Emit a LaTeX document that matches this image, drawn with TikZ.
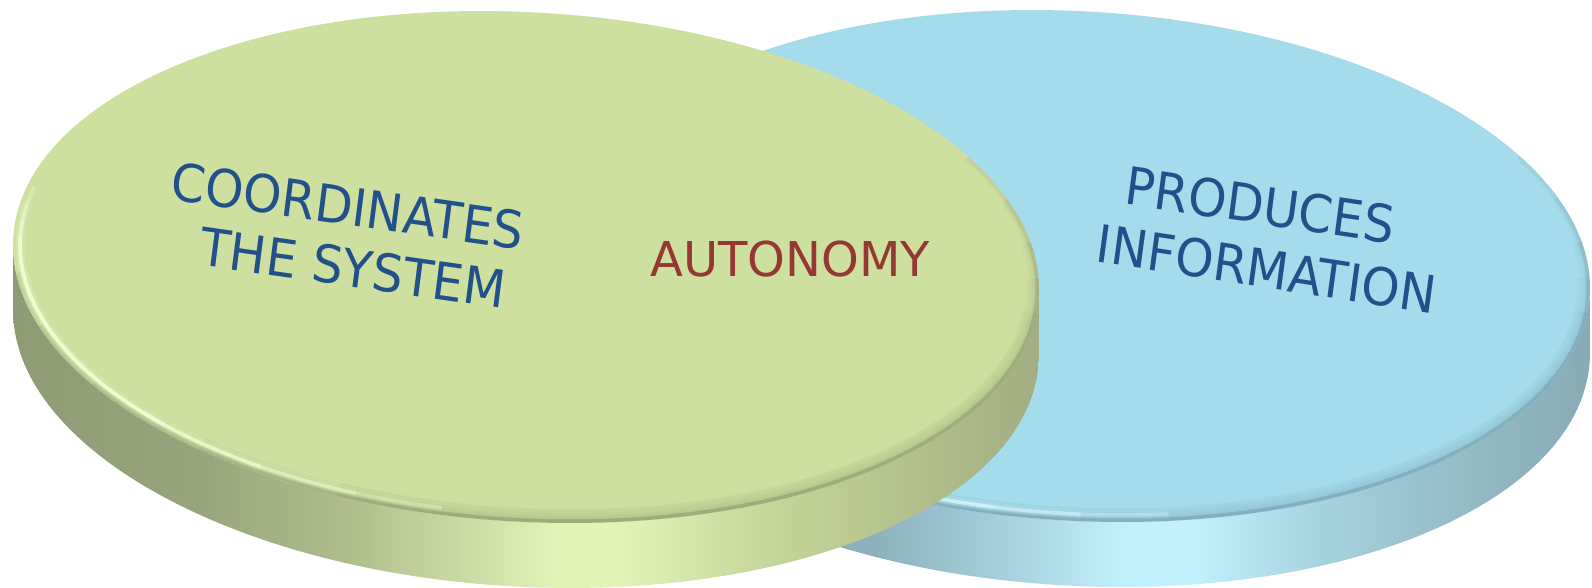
\documentclass[tikz,border=0pt]{standalone}
\usepackage{fontspec}
\setmainfont{DejaVu Sans}
% green side colours
\definecolor{gs0}{HTML}{8F9B74}
\definecolor{gs1}{HTML}{98A47C}
\definecolor{gs2}{HTML}{B0BE8C}
\definecolor{gs3}{HTML}{E2F3B8}
\definecolor{gs4}{HTML}{C4D497}
\definecolor{gs5}{HTML}{A2AD81}
% blue side colours
\definecolor{bs0}{HTML}{7FA2AE}
\definecolor{bs1}{HTML}{8CB1BD}
\definecolor{bs2}{HTML}{A6D1DD}
\definecolor{bs3}{HTML}{C2F1FD}
\definecolor{bs4}{HTML}{A4D0DC}
\definecolor{bs5}{HTML}{93B9C5}
\definecolor{bs6}{HTML}{88AAB5}
% faces, rims, text
\definecolor{gtop}{HTML}{CDE0A0}
\definecolor{btop}{HTML}{A5DCEB}
\definecolor{grim}{HTML}{76815E}
\definecolor{ghl}{HTML}{F4FFD8}
\definecolor{brim}{HTML}{6A8C98}
\definecolor{bhl}{HTML}{DDFAFF}
\definecolor{txtblue}{HTML}{22508A}
\definecolor{txtred}{HTML}{953735}
\pgfdeclarehorizontalshading{greenside}{100bp}{color(0bp)=(gs0); color(25bp)=(gs0); color(34bp)=(gs1); color(41.5bp)=(gs2); color(51.5bp)=(gs3); color(54.5bp)=(gs3); color(62.5bp)=(gs4); color(75bp)=(gs5); color(100bp)=(gs5)}
\pgfdeclarehorizontalshading{blueside}{100bp}{color(0bp)=(bs0); color(25bp)=(bs0); color(40bp)=(bs1); color(46.5bp)=(bs2); color(52.5bp)=(bs3); color(55.5bp)=(bs3); color(62.5bp)=(bs4); color(69.5bp)=(bs5); color(75bp)=(bs6); color(100bp)=(bs6)}
% dark groove along the rim: nested continuous arcs give a soft fade at the ends
\newcommand{\discrim}[1]{%
  \foreach \s/\e/\w in {32/-172/10, 22/-160/14, 12/-146/20, 4/-128/26, -4/-110/28}{%
    \draw[line width=\w, draw=#1, opacity=0.05] (\s:513.6 and 254.7) arc[start angle=\s, end angle=\e, disc];
    \draw[line width=7, draw=#1, opacity=0.08] (\s:513.6 and 254.7) arc[start angle=\s, end angle=\e, disc];
  }}
% light highlight just inside the rim
\newcommand{\dischl}[2]{%
  \foreach \s/\e/\o in {#2}{%
    \draw[line width=9, draw=#1, opacity=0.07] (\s:506.6 and 247.7) arc[start angle=\s, end angle=\e, innerdisc];
    \draw[line width=3.5, draw=#1, opacity=\o] (\s:506.6 and 247.7) arc[start angle=\s, end angle=\e, innerdisc];
  }}
\begin{document}
\begin{tikzpicture}[x=1pt,y=1pt,
  lbl/.style={inner sep=0pt, text=txtblue, xscale=0.94, font=\fontsize{52}{60}\selectfont},
  redlbl/.style={inner sep=0pt, text=txtred, font=\fontsize{48}{58}\selectfont},
  disc/.style={x radius=513.6, y radius=254.7},
  innerdisc/.style={x radius=506.6, y radius=247.7}]
\fill[white] (0,0) rectangle (1592,-587);
\useasboundingbox (0,0) rectangle (1592,-587);

% ---------- blue disc ----------
\begin{scope}[shift={(1077,-266)}, rotate=-3.26]
  \path[shading=blueside] (1.62:513.6 and 254.7) -- ++(3.70,-64.89)
     arc[start angle=1.62, end angle=-178.38, disc]
     -- (181.62:513.6 and 254.7)
     arc[start angle=181.62, end angle=361.62, disc] -- cycle;
  \fill[btop] (0,0) ellipse [disc];
  \begin{scope}
    \clip (0,0) ellipse [disc];
    \discrim{brim}
    \dischl{bhl}{168/282/0.3, 172/272/0.35, 176/262/0.4, 180/250/0.45}
  \end{scope}
\end{scope}

% ---------- green disc ----------
\begin{scope}[shift={(526,-267)}, rotate=-3.26]
  \path[shading=greenside] (1.62:513.6 and 254.7) -- ++(3.70,-64.89)
     arc[start angle=1.62, end angle=-178.38, disc]
     -- (181.62:513.6 and 254.7)
     arc[start angle=181.62, end angle=361.62, disc] -- cycle;
  \fill[gtop] (0,0) ellipse [disc];
  \begin{scope}
    \clip (0,0) ellipse [disc];
    \discrim{grim}
    \dischl{ghl}{168/262/0.3, 172/252/0.35, 176/240/0.45, 180/226/0.5}
  \end{scope}
\end{scope}

% ---------- labels ----------
\node[lbl, rotate=-7.7] (coord) at (348,-206) {COORDINATES};
\node[lbl, rotate=-7.7] (system) at (353,-268) {THE SYSTEM};
\node[lbl, rotate=-8] (produces) at (1260,-205) {PRODUCES};
\node[lbl, rotate=-8.2] (info) at (1267,-269) {INFORMATION};
\node[redlbl] (auto) at (790,-259.5) {AUTONOMY};
\end{tikzpicture}
\end{document}
